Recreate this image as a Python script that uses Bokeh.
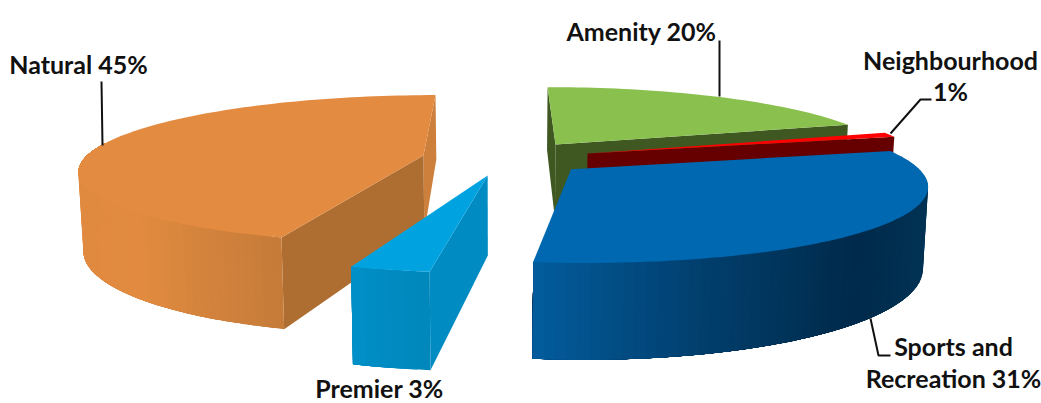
import numpy as np
from bokeh.plotting import figure
from bokeh.embed import file_html
from bokeh.resources import INLINE
from bokeh.core.properties import value as bvalue
from bokeh.models import ColumnDataSource

# ---- data ----
categories = ["Amenity", "Neighbourhood", "Sports and Recreation", "Premier", "Natural"]
shares = [20, 1, 31, 3, 45]

# ---- layout of the exploded 3-D pie (world units, pie radius = 1) ----
explode_x = [0.162, 0.254, 0.197, -0.042, -0.235]
explode_y = [0.295, 0.165, -0.048, -0.130, 0.136]
paint_order = [4, 3, 0, 1, 2]
top_colors = ["#8ac14e", "#ff0000", "#0068b0", "#00a3e0", "#e38b40"]
wall_start = ["#3f5822", "#660000", "#003a66", "#008bc3", "#ae6e32"]
wall_end = ["#3f5822", "#660000", "#003a66", "#008bc3", "#cd803c"]
# which radial walls can be seen: (start edge, end edge)
wall_seen = [(True, True), (False, True), (False, False), (True, False), (True, True)]
grad_x = {2: [532, 700, 860, 925], 3: [351, 430], 4: [83, 140, 200, 285]}
grad_c = {2: ["#025d9e", "#01406f", "#002a4a", "#013254"],
          3: ["#0090c8", "#0087bb"],
          4: ["#e08a40", "#e28b40", "#d5843d", "#c57b39"]}

CX, CY, A, B, K, H = 502.0, 165.0, 345.0, 75.0, 0.185, 78.0
W_PAGE, H_PAGE = 1041, 403


def project(X, Y, z=0.0):
    X, Y = np.asarray(X, float), np.asarray(Y, float)
    w = 1 + K * Y
    return CX + A * X / w * (1 - 0.012 * z), CY - B * Y / w + z * H / w


def to_rgb(c):
    return [int(c[i:i + 2], 16) for i in (1, 3, 5)]


def blend(x, xs, cs):
    rgb = np.array([to_rgb(c) for c in cs], float)
    return "#%02x%02x%02x" % tuple(int(round(np.interp(x, xs, rgb[:, j]))) for j in range(3))


edges = np.concatenate([[0], np.cumsum(shares)]) / sum(shares) * 2 * np.pi

xs, ys, fills = [], [], []


def add(px, py, col):
    xs.append(list(map(float, px)))
    ys.append(list(map(float, py)))
    fills.append(col)


for i in paint_order:
    t0, t1 = edges[i], edges[i + 1]
    ax, ay = explode_x[i], explode_y[i]
    rim = lambda t, z=0.0: project(ax + np.sin(t), ay + np.cos(t), z)
    apex = lambda z=0.0: project(ax, ay, z)
    # radial walls
    for seen, t, col in ((wall_seen[i][1], t1, wall_end[i]), (wall_seen[i][0], t0, wall_start[i])):
        if seen:
            a0, r0, r1, a1 = apex(), rim(t), rim(t, 1.0), apex(1.0)
            add([a0[0], r0[0], r1[0], a1[0]], [a0[1], r0[1], r1[1], a1[1]], col)
    # outer curved wall: each strip runs on to the wall's far end and the next one paints over it
    if i in grad_x:
        lo, hi = max(t0, np.radians(80)), min(t1, np.radians(280))
        ts = np.linspace(lo, hi, max(3, int((hi - lo) / np.radians(1.5))))
        far = np.linspace(0, 1, 8)
        for a in ts[:-1]:
            arc = a + (hi - a) * far
            tx, ty = rim(arc)
            bx, by = rim(arc[::-1], 1.0)
            col = blend(float(rim(a)[0]), grad_x[i], grad_c[i])
            add(np.r_[tx, bx], np.r_[ty, by], col)
    # top face
    ts = np.linspace(t0, t1, max(3, int((t1 - t0) / np.radians(1.5))))
    rx, ry = rim(ts)
    a0 = apex()
    add(np.r_[a0[0], rx], np.r_[a0[1], ry], top_colors[i])

p = figure(width=W_PAGE, height=H_PAGE, x_range=(0, W_PAGE), y_range=(H_PAGE, 0),
           output_backend="svg", toolbar_location=None, x_axis_location=None, y_axis_location=None,
           min_border=0, outline_line_color=None, background_fill_color="white")
p.grid.visible = False
p.patches(xs="xs", ys="ys", fill_color="fills", line_color=None,
          source=ColumnDataSource(dict(xs=xs, ys=ys, fills=fills)))

# leader lines
leaders = [([101, 102], [81, 145]), ([719, 719], [40, 96]),
           ([890, 920, 931], [133, 99, 99]), ([870, 878, 890], [318, 355, 355])]
p.multi_line(xs=[l[0] for l in leaders], ys=[l[1] for l in leaders], line_color="#111111", line_width=2)

# labels
label_text = [f"{categories[4]} {shares[4]}%", f"{categories[3]} {shares[3]}%", f"{categories[0]} {shares[0]}%",
              categories[1], f"{shares[1]}%", "Sports and", f"Recreation {shares[2]}%"]
label_x = [78, 379, 641, 950, 950, 953, 953]
label_y = [63, 387, 30, 59, 90, 345, 377]
p.text(x=label_x, y=label_y, text=label_text, text_font=bvalue("Lato"), text_font_style="bold",
       text_font_size="25px", text_color="#111111", text_align="center", text_baseline="middle")

open("out.html", "w").write(file_html(p, INLINE))
